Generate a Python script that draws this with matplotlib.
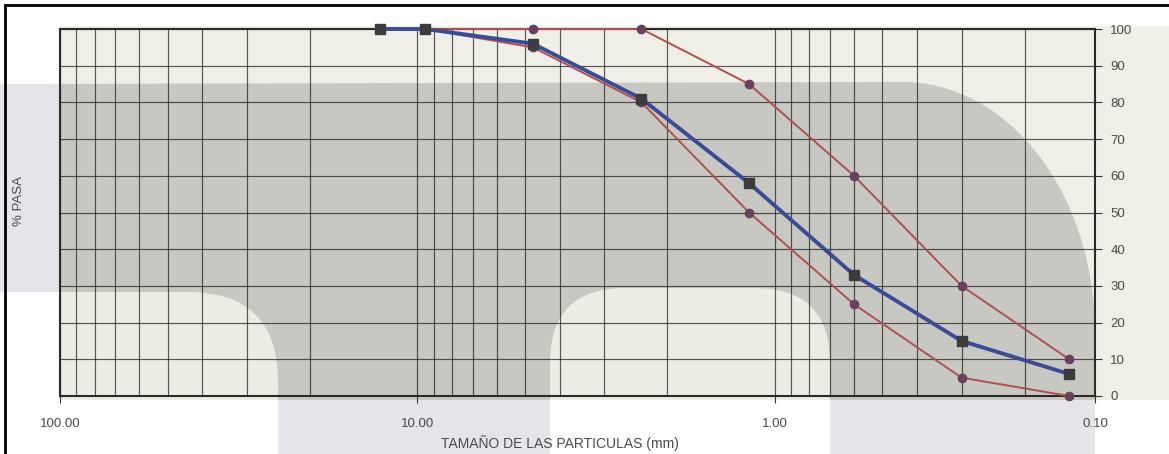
import numpy as np
import matplotlib
matplotlib.use('Agg')
import matplotlib.pyplot as plt
from matplotlib.patches import Polygon, Rectangle, FancyBboxPatch
from matplotlib.ticker import LogLocator, NullFormatter

# abertura de tamices (mm) y % que pasa
SIZES = [12.7, 9.5, 4.75, 2.36, 1.18, 0.6, 0.3, 0.15]
PASA = [100, 100, 96, 81, 58, 33, 15, 6]
# limites de la norma (huso)
LIM_SIZES = [9.5, 4.75, 2.36, 1.18, 0.6, 0.3, 0.15]
LIM_SUP = [100, 100, 100, 85, 60, 30, 10]
LIM_INF = [100, 95, 80, 50, 25, 5, 0]

XTICKS = [100, 10, 1]
XTICK_LABELS = ['100.00', '10.00', '1.00', '0.10']
YTICKS = list(range(0, 101, 10))

TXT = '#4a4a4a'
plt.rcParams['font.family'] = ['Liberation Sans', 'DejaVu Sans']

W, H = 1169, 454
fig = plt.figure(figsize=(W / 100, H / 100), dpi=100)
fig.patch.set_facecolor('white')

# fondo escaneado (papel + marca de agua), en pixeles
bg = fig.add_axes([0, 0, 1, 1])
bg.set_xlim(0, W)
bg.set_ylim(H, 0)
bg.axis('off')
bg.set_zorder(0)

t = np.linspace(np.pi / 2, 0, 40)
arc = np.column_stack([903 + 192 * np.cos(t), 333 - 251 * np.sin(t)])
wm = np.vstack([[[0, 84]], arc, [[1095, 333], [1095, H], [0, H]]])


def arches(color, clip=None):
    for (x0, x1, y0, r) in [(-200, 278, 292, 90), (550, 830, 288, 75)]:
        p = FancyBboxPatch((x0, y0), x1 - x0, 400, boxstyle='round,pad=0,rounding_size=%d' % r,
                           fc=color, ec='none')
        bg.add_patch(p)
        if clip is not None:
            p.set_clip_path(clip)


bg.add_patch(Polygon(wm, closed=True, fc='#e4e4ea', ec='none'))
arches('white')
paper = Rectangle((60, 26), W - 60, 374, fc='#efeee7', ec='none')
bg.add_patch(paper)
dark = Polygon(wm, closed=True, fc='#c8c8c2', ec='none')
bg.add_patch(dark)
dark.set_clip_path(paper)
arches('#ecebe4', clip=paper)
bg.plot([5, 5], [H, 5], color='black', lw=2)
bg.plot([5, W], [5, 5], color='black', lw=2)

# grafico granulometrico
ax = fig.add_axes([60 / W, 1 - 396 / H, 1035 / W, 367 / H])
ax.set_zorder(1)
ax.patch.set_visible(False)

ax.plot(LIM_SIZES, LIM_SUP, color='#b0504e', lw=1.4, marker='o', ms=6,
        mfc='#6b3f5e', mec='#6b3f5e', zorder=3, clip_on=False)
ax.plot(LIM_SIZES, LIM_INF, color='#b0504e', lw=1.4, marker='o', ms=6,
        mfc='#6b3f5e', mec='#6b3f5e', zorder=3, clip_on=False)
ax.plot(SIZES, PASA, color='#3a4b98', lw=2.8, marker='s', ms=7.5,
        mfc='#3b3b40', mec='#3b3b40', zorder=4, clip_on=False)

ax.set_xscale('log')
# la escala del original termina un poco antes de 0.10
xr = 0.127
ax.set_xlim(100, xr)
ax.set_ylim(0, 100)
ax.set_xticks(XTICKS + [xr])
ax.set_xticklabels(XTICK_LABELS)
ax.xaxis.set_minor_locator(LogLocator(subs=range(2, 10)))
ax.xaxis.set_minor_formatter(NullFormatter())
ax.set_yticks(YTICKS)
ax.yaxis.tick_right()

ax.grid(True, which='both', axis='x', color='#202020', lw=0.85, alpha=0.75)
ax.grid(True, which='major', axis='y', color='#202020', lw=0.85, alpha=0.75)
ax.tick_params(axis='x', which='major', length=5, pad=11, labelsize=9.5, labelcolor=TXT, color='#333333')
ax.tick_params(axis='x', which='minor', length=0)
ax.tick_params(axis='y', length=5, pad=6, labelsize=9.5, labelcolor=TXT, color='#333333')
for s in ax.spines.values():
    s.set_color('#2a2a2a')
    s.set_linewidth(1.5)

ax.set_ylabel('% PASA', fontsize=9.5, color=TXT)
ax.yaxis.set_label_position('left')
ax.yaxis.set_label_coords(-0.034, 0.53)
ax.set_xlabel('TAMAÑO DE LAS PARTICULAS (mm)', fontsize=10, color=TXT)
ax.xaxis.set_label_coords(0.483, -0.105)

fig.savefig('out.png', dpi=100)
